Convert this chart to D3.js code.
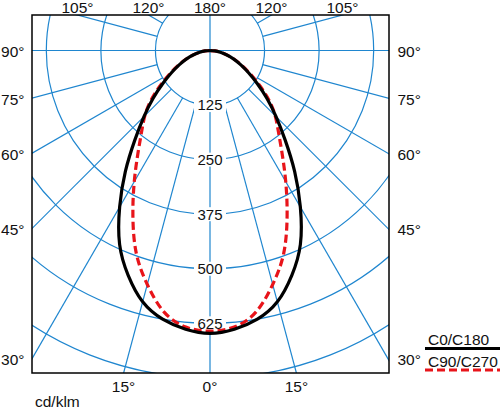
<!DOCTYPE html>
<html>
<head>
<meta charset="utf-8">
<script src="https://cdn.jsdelivr.net/npm/d3@7"></script>
<style>
  body { margin: 0; background: #fff; }
  text { font-family: "Liberation Sans", Arial, sans-serif; fill: #111; }
</style>
</head>
<body>
<div id="chart"></div>
<script>
// Gamma angles (deg) and intensity in cd/klm for both planes
const gammas = [0, 5, 10, 15, 20, 25, 30, 35, 40, 45, 50, 55, 60, 65, 70, 75, 80, 85, 90];
const c0c180 = [648, 641, 625, 596, 548, 490, 414, 338, 268, 214, 170, 132, 102, 78, 58, 40, 24, 11, 0];
const c90c270 = [643, 636, 608, 555, 494, 418, 347, 288, 244, 211, 176, 138, 106, 80, 59, 41, 25, 11, 0];

// Grid
const ringValues = [125, 250, 375, 500, 625, 750, 875, 1000];
const ringLabels = [125, 250, 375, 500, 625];
const spokeAngles = [15, 30, 45, 60, 75, 105, 120, 135, 150, 165];
const sideTicks = [30, 45, 60, 75, 90];
const topTicks = [105, 120];
const bottomTicks = [15];

const legendNames = ["C0/C180", "C90/C270"];
const unitLabel = "cd/klm";

const width = 500;
const height = 409;
const box = {left: 32, right: 389, top: 15, bottom: 373};
const cx = 210, cy = 50.5;
const blue = "#1f86cf";
const fontSize = "15.5px";

const svg = d3.select("#chart")
    .append("svg")
    .attr("width", width)
    .attr("height", height);

svg.append("defs").append("clipPath")
    .attr("id", "clip")
    .append("rect")
    .attr("x", box.left)
    .attr("y", box.top)
    .attr("width", box.right - box.left)
    .attr("height", box.bottom - box.top);

// radius scale (cd/klm -> px)
const r = d3.scaleLinear()
    .domain([0, 625])
    .range([0, 272.8]);

const rad = d => d * Math.PI / 180;

const g = svg.append("g")
    .attr("clip-path", "url(#clip)");

const center = g.append("g")
    .attr("transform", `translate(${cx},${cy})`);

// rings
center.selectAll(".ring")
    .data(ringValues)
    .enter()
    .append("circle")
    .attr("r", d => r(d))
    .attr("fill", "none")
    .attr("stroke", blue)
    .attr("stroke-width", 1.2);

// spokes start at the first ring, on both sides
const spokes = [];
spokeAngles.forEach(a => { spokes.push(a); spokes.push(-a); });
center.selectAll(".spoke")
    .data(spokes)
    .enter()
    .append("line")
    .attr("x1", d => r(125) * Math.sin(rad(d)))
    .attr("y1", d => r(125) * Math.cos(rad(d)))
    .attr("x2", d => 700 * Math.sin(rad(d)))
    .attr("y2", d => 700 * Math.cos(rad(d)))
    .attr("stroke", blue)
    .attr("stroke-width", 1.2);

// full vertical and horizontal axes
center.append("line")
    .attr("x1", 0).attr("x2", 0)
    .attr("y1", -100).attr("y2", 500)
    .attr("stroke", blue).attr("stroke-width", 1.2);
center.append("line")
    .attr("x1", -300).attr("x2", 300)
    .attr("y1", 0).attr("y2", 0)
    .attr("stroke", blue).attr("stroke-width", 1.2);

// ring value labels on the 0 axis
const ringLab = center.selectAll(".rlab")
    .data(ringLabels)
    .enter()
    .append("g")
    .attr("transform", d => `translate(0,${r(d)})`);
ringLab.append("rect")
    .attr("x", -16).attr("y", -7)
    .attr("width", 32).attr("height", 14)
    .attr("fill", "#fff");
ringLab.append("text")
    .attr("text-anchor", "middle")
    .attr("dy", "0.36em")
    .style("font-size", "15px")
    .text(d => d);

// curves: left half from 90 down to 0, then right half from 0 up to 90
function curvePoints(values) {
    const pts = [];
    for (let i = gammas.length - 1; i >= 0; i--) {
        const a = rad(gammas[i]);
        pts.push([-r(values[i]) * Math.sin(a), r(values[i]) * Math.cos(a)]);
    }
    for (let i = 1; i < gammas.length; i++) {
        const a = rad(gammas[i]);
        pts.push([r(values[i]) * Math.sin(a), r(values[i]) * Math.cos(a)]);
    }
    return pts;
}

const line = d3.line()
    .curve(d3.curveNatural);

const curves = svg.append("g")
    .attr("transform", `translate(${cx},${cy})`);

curves.append("path")
    .attr("d", line(curvePoints(c90c270)))
    .attr("fill", "none")
    .attr("stroke", "#e8141a")
    .attr("stroke-width", 3.2)
    .attr("stroke-dasharray", "8,4");

curves.append("path")
    .attr("d", line(curvePoints(c0c180)))
    .attr("fill", "none")
    .attr("stroke", "#000")
    .attr("stroke-width", 3.2);

// frame
svg.append("rect")
    .attr("x", box.left)
    .attr("y", box.top)
    .attr("width", box.right - box.left)
    .attr("height", box.bottom - box.top)
    .attr("fill", "none")
    .attr("stroke", "#000")
    .attr("stroke-width", 1.5);

// angle labels where spokes meet the frame
const halfW = cx - box.left;
sideTicks.forEach(a => {
    const y = cy + halfW / Math.tan(rad(a));
    svg.append("text")
        .attr("x", 24.5).attr("y", y).attr("dy", "0.42em")
        .attr("text-anchor", "end")
        .style("font-size", fontSize)
        .text(a + "°");
    svg.append("text")
        .attr("x", 397.5).attr("y", y).attr("dy", "0.42em")
        .style("font-size", fontSize)
        .text(a + "°");
});

const upH = cy - box.top;
topTicks.forEach(a => {
    const dx = upH / Math.tan(rad(a - 90));
    [cx - dx, cx + dx].forEach(x => {
        svg.append("text")
            .attr("x", x).attr("y", 12.5)
            .attr("text-anchor", "middle")
            .style("font-size", fontSize)
            .text(a + "°");
    });
});
svg.append("text")
    .attr("x", cx).attr("y", 12.5)
    .attr("text-anchor", "middle")
    .style("font-size", fontSize)
    .text("180°");

const downH = box.bottom - cy;
bottomTicks.forEach(a => {
    const dx = downH * Math.tan(rad(a));
    [cx - dx, cx + dx].forEach(x => {
        svg.append("text")
            .attr("x", x).attr("y", 391.5)
            .attr("text-anchor", "middle")
            .style("font-size", fontSize)
            .text(a + "°");
    });
});
svg.append("text")
    .attr("x", cx).attr("y", 391.5)
    .attr("text-anchor", "middle")
    .style("font-size", fontSize)
    .text("0°");

svg.append("text")
    .attr("x", 35).attr("y", 407)
    .style("font-size", fontSize)
    .text(unitLabel);

// legend
const legend = svg.append("g");
legend.append("text")
    .attr("x", 428).attr("y", 345)
    .style("font-size", fontSize)
    .text(legendNames[0]);
legend.append("line")
    .attr("x1", 425).attr("x2", 500)
    .attr("y1", 348.5).attr("y2", 348.5)
    .attr("stroke", "#000")
    .attr("stroke-width", 3);
legend.append("text")
    .attr("x", 428).attr("y", 366.5)
    .style("font-size", fontSize)
    .text(legendNames[1]);
legend.append("line")
    .attr("x1", 425).attr("x2", 500)
    .attr("y1", 370).attr("y2", 370)
    .attr("stroke", "#e8141a")
    .attr("stroke-width", 3)
    .attr("stroke-dasharray", "8,4");
</script>
</body>
</html>
